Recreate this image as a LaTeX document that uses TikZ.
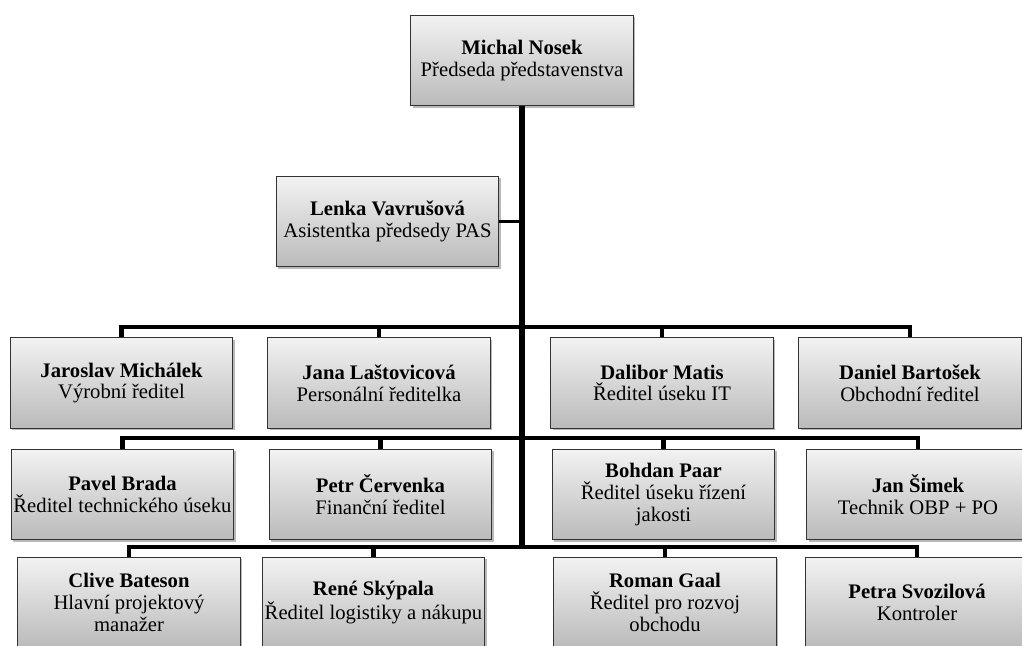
\documentclass[tikz,border=0pt]{standalone}
\usepackage{fontspec}
\setmainfont{Liberation Serif}
\usetikzlibrary{shadows}

\newcommand\who[2]{\textbf{#1}\\#2}

\tikzset{
  person/.style={
    draw=black!80,
    line width=0.6pt,
    top color=black!5,
    bottom color=black!27,
    minimum width=167pt,
    minimum height=68pt,
    inner sep=0pt,
    align=center,
    font=\fontsize{15.5}{16.3}\selectfont,
    drop shadow={shadow xshift=1.5pt, shadow yshift=-1.5pt, opacity=0.55},
  },
  trunk/.style={
    line width=4.8pt,
  },
  branch/.style={
    line width=3.4pt,
  },
  link/.style={
    line width=2.8pt,
  },
}

\begin{document}
\begin{tikzpicture}[x=0.75pt, y=-0.75pt]
  \useasboundingbox (0,0) rectangle (1022,646);
  \clip (0,0) rectangle (1022,646);

  \node[person] (chair) at (522,60.5) {\who{Michal Nosek}{Předseda představenstva}};
  \node[person] (assistant) at (387.5,221.5) {\who{Lenka Vavrušová}{Asistentka předsedy PAS}};

  % first row
  \node[person] (p11) at (121.5,383) {\who{Jaroslav Michálek}{Výrobní ředitel}};
  \node[person] (p12) at (379,383) {\who{Jana Laštovicová}{Personální ředitelka}};
  \node[person] (p13) at (662,383) {\who{Dalibor Matis}{Ředitel úseku IT}};
  \node[person] (p14) at (910,383) {\who{Daniel Bartošek}{Obchodní ředitel}};

  % second row
  \node[person] (p21) at (122.5,494.5) {\who{Pavel Brada}{Ředitel technického úseku}};
  \node[person] (p22) at (380.5,494.5) {\who{Petr Červenka}{Finanční ředitel}};
  \node[person] (p23) at (663.5,494.5) {\who{Bohdan Paar}{Ředitel úseku řízení\\jakosti}};
  \node[person] (p24) at (918,494.5) {\who{Jan Šimek}{Technik OBP + PO}};

  % third row
  \node[person] (p31) at (129,602.5) {\who{Clive Bateson}{Hlavní projektový\\manažer}};
  \node[person] (p32) at (373.5,602.5) {\who{René Skýpala}{Ředitel logistiky a nákupu}};
  \node[person] (p33) at (665,602.5) {\who{Roman Gaal}{Ředitel pro rozvoj\\obchodu}};
  \node[person] (p34) at (917,602.5) {\who{Petra Svozilová}{Kontroler}};

  \coordinate (lvl1) at (522,327);
  \coordinate (lvl2) at (522,438);
  \coordinate (lvl3) at (522,547);

  \draw[trunk] (chair.south) -- (chair.south |- lvl3);
  \draw[link] (assistant.east) -- (assistant.east -| chair.south);

  \foreach \r in {1,2,3} {
    \draw[branch] (p\r1.north) |- (lvl\r) -| (p\r4.north)
      (p\r2.north) -- (p\r2.north |- lvl\r)
      (p\r3.north) -- (p\r3.north |- lvl\r);
  }

\end{tikzpicture}
\end{document}
